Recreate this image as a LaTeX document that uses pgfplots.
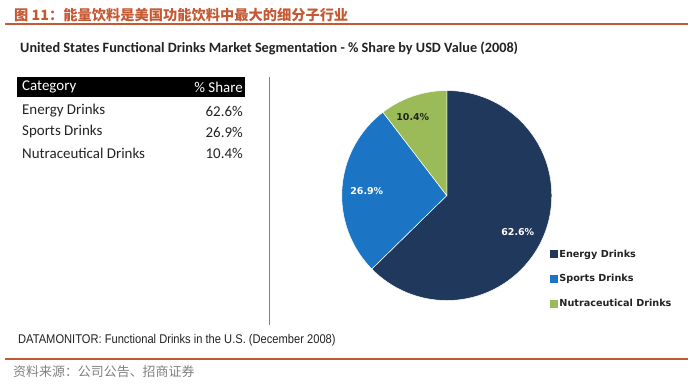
\documentclass[border=0pt]{standalone}
\usepackage{fontspec}
\usepackage{pgfplots}
\usepackage{pgfplotstable}
\pgfplotsset{compat=1.18}
\setmainfont{Carlito}
\newfontfamily\cjk{Noto Sans CJK SC}
\newfontfamily\dv{DejaVu Sans}
\newfontfamily\narrow[FakeStretch=0.88]{Liberation Sans}
\definecolor{titlered}{RGB}{196,89,52}
\definecolor{energy}{RGB}{31,56,92}
\definecolor{sports}{RGB}{28,117,196}
\definecolor{nutra}{RGB}{155,187,89}
\definecolor{txt}{RGB}{34,34,34}

\pgfplotstableread{
category share
Energy 62.6
Sports 26.9
Nutraceutical 10.4
}\sharetable

\begin{document}
\begin{tikzpicture}[x=1bp,y=1bp]
\useasboundingbox (0,0) rectangle (700,384);
% data -> angles
\pgfplotstablegetelem{0}{share}\of\sharetable \pgfmathsetmacro\sA{\pgfplotsretval}
\pgfplotstablegetelem{1}{share}\of\sharetable \pgfmathsetmacro\sB{\pgfplotsretval}
\pgfplotstablegetelem{2}{share}\of\sharetable \pgfmathsetmacro\sC{\pgfplotsretval}
\pgfmathsetmacro\tot{\sA+\sB+\sC}
\pgfmathsetmacro\aO{90}
\pgfmathsetmacro\aA{90-(\sA/\tot)*360}
\pgfmathsetmacro\aB{\aA-(\sB/\tot)*360}
\pgfmathsetmacro\aC{\aB-(\sC/\tot)*360}

% titles
\node[anchor=west, inner sep=0, text=titlered, font=\cjk\bfseries\fontsize{14.3}{16}\selectfont] at (14,369) {图 11：能量饮料是美国功能饮料中最大的细分子行业};
\draw[titlered, line width=1.5bp] (5,360) -- (688,360);
\node[anchor=west, inner sep=0, text=txt, font=\bfseries\fontsize{14.3}{16}\selectfont] at (20,336) {United States Functional Drinks Market Segmentation - \% Share by USD Value (2008)};

% table
\fill[black] (17,307) rectangle (245,287);
\node[anchor=west, inner sep=0, text=white, font=\fontsize{15}{17}\selectfont] at (22,297) {Category};
\node[anchor=east, inner sep=0, text=white, font=\fontsize{15}{17}\selectfont] at (243,297) {\% Share};
\begin{scope}[every node/.style={inner sep=0, text=txt, font=\fontsize{15}{17}\selectfont}]
\node[anchor=west] at (22,273) {Energy Drinks};
\node[anchor=east] at (243,273) {62.6\%};
\node[anchor=west] at (22,252) {Sports Drinks};
\node[anchor=east] at (243,252) {26.9\%};
\node[anchor=west] at (22,231) {Nutraceutical Drinks};
\node[anchor=east] at (243,231) {10.4\%};
\end{scope}
\draw[gray, line width=1bp] (269,307) -- (269,59);

% pie
\begin{axis}[at={(315.5,69.5)}, anchor=south west, x=105bp, y=105bp,
  xmin=-1.1, xmax=1.1, ymin=-1.1, ymax=1.1, hide axis, clip=false,
  legend cell align=left,
  legend style={at={(axis description cs:0.946,0.275)}, anchor=north west,
    draw=none, fill=none, row sep=12bp, inner sep=0pt,
    font=\dv\bfseries\fontsize{9.7}{11}\selectfont, text=txt,
    nodes={inner sep=2bp}}]
\addlegendimage{legend image code/.code={\fill[energy] (0bp,-3.5bp) rectangle (7bp,3.5bp);}}
\addlegendentry{Energy Drinks}
\addlegendimage{legend image code/.code={\fill[sports] (0bp,-3.5bp) rectangle (7bp,3.5bp);}}
\addlegendentry{Sports Drinks}
\addlegendimage{legend image code/.code={\fill[nutra] (0bp,-3.5bp) rectangle (7bp,3.5bp);}}
\addlegendentry{Nutraceutical Drinks}
\fill[energy, draw=white, line width=0.5bp] (axis cs:0,0) -- (axis cs:{cos(\aO)},{sin(\aO)}) arc[start angle=\aO, end angle=\aA, radius=105bp] -- cycle;
\fill[sports, draw=white, line width=0.5bp] (axis cs:0,0) -- (axis cs:{cos(\aA)},{sin(\aA)}) arc[start angle=\aA, end angle=\aB, radius=105bp] -- cycle;
\fill[nutra, draw=white, line width=0.5bp] (axis cs:0,0) -- (axis cs:{cos(\aB)},{sin(\aB)}) arc[start angle=\aB, end angle=\aC, radius=105bp] -- cycle;
\node[font=\dv\bfseries\fontsize{9.5}{11}\selectfont, text=txt] at (axis cs:-0.324,0.752) {10.4\%};
\node[font=\dv\bfseries\fontsize{9.5}{11}\selectfont, text=white] at (axis cs:-0.762,0.038) {26.9\%};
\node[font=\dv\bfseries\fontsize{9.5}{11}\selectfont, text=white] at (axis cs:0.676,-0.352) {62.6\%};
\end{axis}

% footer
\node[anchor=west, inner sep=0, text=txt, font=\narrow\fontsize{12.7}{14}\selectfont] at (18,44) {DATAMONITOR: Functional Drinks in the U.S. (December 2008)};
\draw[titlered, line width=1.2bp] (5,25) -- (688,25);
\node[anchor=west, inner sep=0, text=gray, font=\cjk\fontsize{13}{15}\selectfont] at (13,12) {资料来源：公司公告、招商证券};
\end{tikzpicture}
\end{document}
